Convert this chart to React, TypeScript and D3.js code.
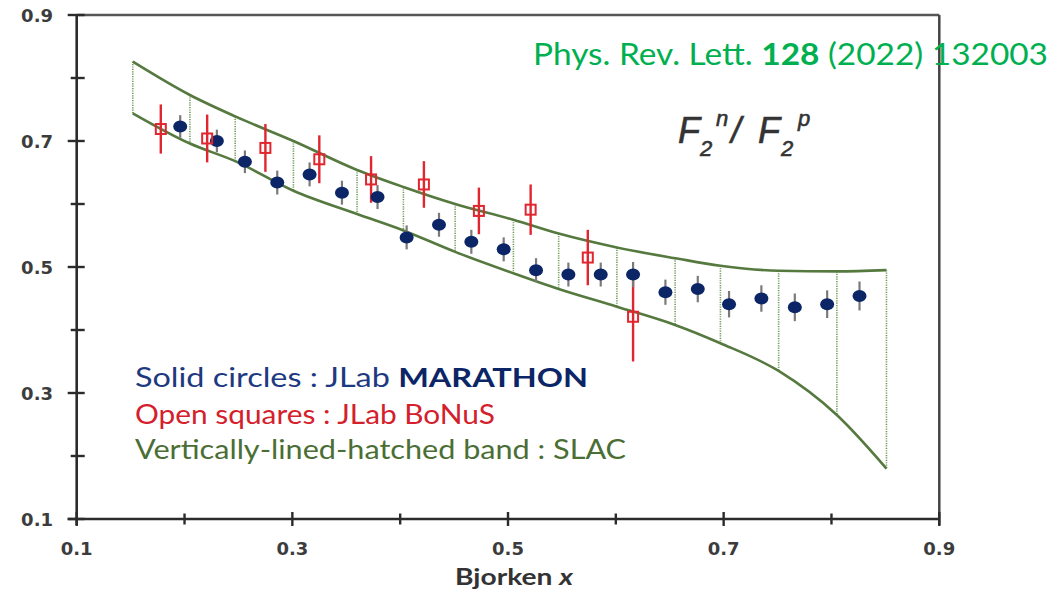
import React from 'react';
import * as d3 from 'd3';

// ---- data ----
const majorTicks = [0.1, 0.3, 0.5, 0.7, 0.9];
const minorTicks = [0.2, 0.4, 0.6, 0.8];
const tickLabels = ['0.1', '0.3', '0.5', '0.7', '0.9'];

// SLAC band (vertically-lined hatched)
const bandX = [0.152, 0.205, 0.247, 0.301, 0.36, 0.403, 0.451, 0.505, 0.547, 0.601, 0.655, 0.697, 0.751, 0.805, 0.851];
const bandUpper = [0.826, 0.773, 0.739, 0.700, 0.654, 0.627, 0.600, 0.575, 0.553, 0.531, 0.514, 0.502, 0.494, 0.493, 0.495];
const bandLower = [0.744, 0.696, 0.668, 0.621, 0.584, 0.558, 0.524, 0.490, 0.465, 0.437, 0.408, 0.379, 0.335, 0.265, 0.180];

// JLab MARATHON (solid circles)
const marathonX = [0.196, 0.230, 0.256, 0.286, 0.316, 0.346, 0.379, 0.406, 0.436, 0.466, 0.496, 0.526, 0.556, 0.586, 0.616, 0.646, 0.676, 0.705, 0.735, 0.766, 0.796, 0.826];
const marathonY = [0.723, 0.700, 0.667, 0.634, 0.647, 0.618, 0.611, 0.547, 0.567, 0.540, 0.528, 0.495, 0.488, 0.488, 0.488, 0.460, 0.465, 0.441, 0.450, 0.436, 0.441, 0.454];
const marathonErr = [0.018, 0.018, 0.018, 0.019, 0.019, 0.019, 0.019, 0.019, 0.019, 0.019, 0.019, 0.019, 0.019, 0.019, 0.020, 0.020, 0.021, 0.021, 0.021, 0.022, 0.022, 0.023];

// JLab BoNuS (open squares)
const bonusX = [0.178, 0.221, 0.275, 0.325, 0.373, 0.422, 0.473, 0.521, 0.574, 0.616];
const bonusY = [0.719, 0.704, 0.689, 0.671, 0.639, 0.631, 0.589, 0.591, 0.515, 0.421];
const bonusErr = [0.039, 0.038, 0.038, 0.038, 0.037, 0.037, 0.037, 0.040, 0.044, 0.071];

const W = 1058;
const H = 595;

export default function App() {
  const x = d3.scaleLinear().domain([0.1, 0.9]).range([76.7, 939.3]);
  const y = d3.scaleLinear().domain([0.1, 0.9]).range([519, 15]);

  const bandLine = d3
    .line<number>()
    .x((_, i) => x(bandX[i]))
    .y((d) => y(d))
    .curve(d3.curveMonotoneX);

  const bandGreen = '#55793f';
  const hatchGreen = '#6f9a58';
  const blue = '#0b2566';
  const red = '#e0262f';
  const axisCol = '#2b2b2b';

  const tickFont = "'DejaVu Sans', sans-serif";

  return (
    <div style={{ position: 'absolute', left: 0, top: 0 }}>
      <svg width={W} height={H} viewBox={`0 0 ${W} ${H}`} style={{ display: 'block', background: '#fff' }}>
        <rect x={0} y={0} width={W} height={H} fill="#fff" />

        {/* frame */}
        <line x1={x(0.1)} x2={x(0.9)} y1={y(0.9)} y2={y(0.9)} stroke="#555" strokeWidth={2.5} />
        <line x1={x(0.9)} x2={x(0.9)} y1={y(0.9)} y2={y(0.1) + 6} stroke="#444" strokeWidth={2.5} />
        <line x1={x(0.1)} x2={x(0.1)} y1={y(0.9)} y2={y(0.1) + 6} stroke={axisCol} strokeWidth={2.6} />
        <line x1={x(0.1) - 9} x2={x(0.9)} y1={y(0.1)} y2={y(0.1)} stroke={axisCol} strokeWidth={2.6} />

        {/* y ticks */}
        {majorTicks.map((t) => (
          <line key={'ym' + t} x1={x(0.1) - 9} x2={x(0.1) + 8} y1={y(t)} y2={y(t)} stroke={axisCol} strokeWidth={2.4} />
        ))}
        {minorTicks.map((t) => (
          <line key={'yn' + t} x1={x(0.1) - 6} x2={x(0.1) + 8} y1={y(t)} y2={y(t)} stroke={axisCol} strokeWidth={2.4} />
        ))}
        {/* x ticks */}
        {majorTicks.map((t) => (
          <line key={'xm' + t} x1={x(t)} x2={x(t)} y1={y(0.1) - 7} y2={y(0.1) + 7} stroke={axisCol} strokeWidth={2.4} />
        ))}
        {minorTicks.map((t) => (
          <line key={'xn' + t} x1={x(t)} x2={x(t)} y1={y(0.1) - 5.5} y2={y(0.1) + 5.5} stroke={axisCol} strokeWidth={2.4} />
        ))}

        {/* tick labels */}
        {majorTicks.map((t, i) => (
          <text key={'yl' + t} x={53} y={y(t) + 6.5} textAnchor="end" fontFamily={tickFont} fontWeight="bold" fontSize={18} fill="#3c3c3c">
            {tickLabels[i]}
          </text>
        ))}
        {majorTicks.map((t, i) => (
          <text key={'xl' + t} x={x(t)} y={555} textAnchor="middle" fontFamily={tickFont} fontWeight="bold" fontSize={18} fill="#3c3c3c">
            {tickLabels[i]}
          </text>
        ))}
        <text x={455} y={585} fontFamily="Lato, sans-serif" fontSize={23} fill="#333" fontWeight="bold" textLength={118} lengthAdjust="spacingAndGlyphs">
          Bjorken <tspan fontStyle="italic">x</tspan>
        </text>

        {/* SLAC band verticals */}
        {bandX.map((bx, i) => (
          <line
            key={'h' + i}
            x1={x(bx)}
            x2={x(bx)}
            y1={y(bandUpper[i])}
            y2={y(bandLower[i])}
            stroke={hatchGreen}
            strokeWidth={1.6}
            strokeDasharray="1.2 1.2"
          />
        ))}
        <path d={bandLine(bandUpper) || ''} fill="none" stroke={bandGreen} strokeWidth={2.6} />
        <path d={bandLine(bandLower) || ''} fill="none" stroke={bandGreen} strokeWidth={2.6} />

        {/* BoNuS error bars */}
        {bonusX.map((bx, i) => (
          <line
            key={'be' + i}
            x1={x(bx)}
            x2={x(bx)}
            y1={y(bonusY[i] + bonusErr[i])}
            y2={y(bonusY[i] - bonusErr[i])}
            stroke={red}
            strokeWidth={2.4}
          />
        ))}

        {/* MARATHON */}
        {marathonX.map((mx, i) => (
          <line
            key={'me' + i}
            x1={x(mx)}
            x2={x(mx)}
            y1={y(marathonY[i] + marathonErr[i])}
            y2={y(marathonY[i] - marathonErr[i])}
            stroke="#7a7a7a"
            strokeWidth={2.2}
          />
        ))}
        {marathonX.map((mx, i) => (
          <ellipse key={'mc' + i} cx={x(mx)} cy={y(marathonY[i])} rx={7} ry={6} fill={blue} />
        ))}

        {/* BoNuS squares */}
        {bonusX.map((bx, i) => (
          <rect key={'bs' + i} x={x(bx) - 5} y={y(bonusY[i]) - 5} width={10} height={10} fill="none" stroke={red} strokeWidth={2} />
        ))}

        {/* F2n / F2p label */}
        <text fontFamily="'Liberation Sans', Arial, sans-serif" fontStyle="italic" fill="#333" stroke="#333" strokeWidth={0.6}>
          <tspan x={678} y={143} fontSize={36}>F</tspan>
          <tspan x={700} y={156} fontSize={22}>2</tspan>
          <tspan x={716} y={126} fontSize={22}>n</tspan>
          <tspan x={731} y={143} fontSize={36}>/</tspan>
          <tspan x={758} y={143} fontSize={36}>F</tspan>
          <tspan x={781} y={156} fontSize={22}>2</tspan>
          <tspan x={798} y={126} fontSize={22}>p</tspan>
        </text>

        {/* legend */}
        <g fontFamily="Lato, sans-serif" fontSize={27}>
          <text x={135} y={387} fill="#1d3a80" textLength={453} lengthAdjust="spacingAndGlyphs">
            Solid circles : JLab <tspan fontWeight="bold" fill="#0b2566">MARATHON</tspan>
          </text>
          <text x={135} y={424} fill="#d4202c" textLength={360} lengthAdjust="spacingAndGlyphs">
            Open squares : JLab BoNuS
          </text>
          <text x={135} y={459} fill="#4a6e33" textLength={491} lengthAdjust="spacingAndGlyphs">
            Vertically-lined-hatched band : SLAC
          </text>
        </g>

        {/* citation */}
        <text x={533} y={65} fontFamily="Lato, sans-serif" fontSize={30} fill="#00b050" textLength={515} lengthAdjust="spacingAndGlyphs">
          Phys. Rev. Lett. <tspan fontWeight="bold">128</tspan> (2022) 132003
        </text>
      </svg>
    </div>
  );
}
